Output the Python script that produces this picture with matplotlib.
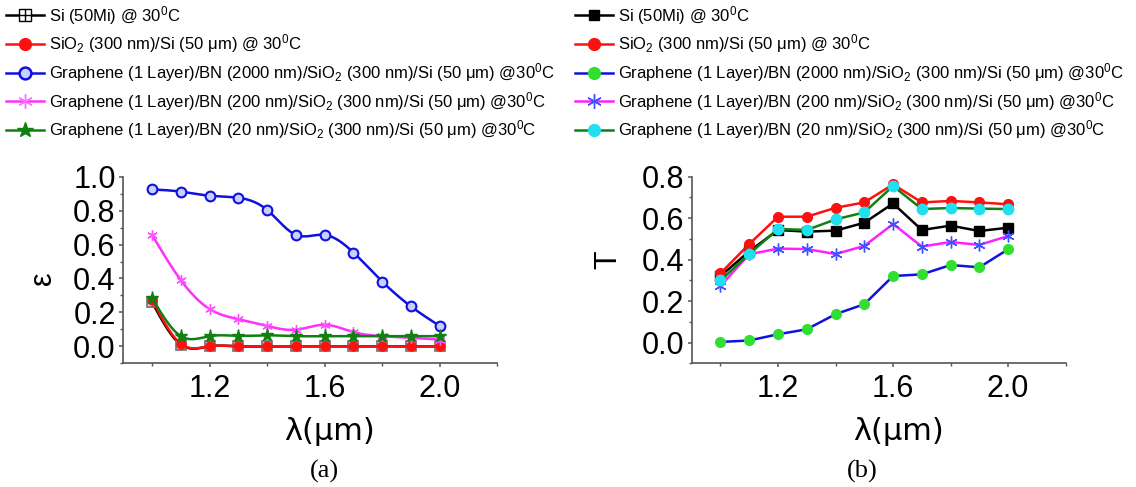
import numpy as np
import matplotlib
matplotlib.use("Agg")
import matplotlib.pyplot as plt
from matplotlib.ticker import MultipleLocator, FixedLocator, FormatStrFormatter
from matplotlib.legend_handler import HandlerTuple
from matplotlib.lines import Line2D

plt.rcParams['font.family'] = ['Liberation Sans', 'DejaVu Sans']
plt.rcParams['mathtext.fontset'] = 'custom'
plt.rcParams['mathtext.rm'] = 'Liberation Sans'
plt.rcParams['mathtext.it'] = 'Liberation Sans:italic'
plt.rcParams['mathtext.bf'] = 'Liberation Sans:bold'

# Wavelength grid (µm)
wavelength = [1.0, 1.1, 1.2, 1.3, 1.4, 1.5, 1.6, 1.7, 1.8, 1.9, 2.0]

# (a) emissivity
eps_si = [0.26, 0.01, 0.0, 0.0, 0.0, 0.0, 0.0, 0.0, 0.0, 0.0, 0.0]
eps_sio2 = [0.275, 0.015, 0.0, 0.0, 0.0, 0.0, 0.0, 0.0, 0.0, 0.0, 0.0]
eps_bn2000 = [0.925, 0.912, 0.888, 0.876, 0.804, 0.657, 0.657, 0.553, 0.382, 0.235, 0.12]
eps_bn200 = [0.657, 0.39, 0.22, 0.16, 0.12, 0.098, 0.127, 0.084, 0.06, 0.05, 0.04]
eps_bn20 = [0.285, 0.06, 0.06, 0.062, 0.065, 0.06, 0.06, 0.06, 0.06, 0.06, 0.06]

# (b) transmittance
t_si = [0.321, 0.44, 0.543, 0.535, 0.54, 0.578, 0.671, 0.543, 0.564, 0.538, 0.554]
t_sio2 = [0.334, 0.475, 0.607, 0.607, 0.65, 0.676, 0.763, 0.676, 0.683, 0.676, 0.667]
t_bn2000 = [0.003, 0.01, 0.04, 0.064, 0.137, 0.185, 0.321, 0.329, 0.374, 0.363, 0.45]
t_bn200 = [0.273, 0.426, 0.453, 0.451, 0.427, 0.466, 0.572, 0.463, 0.485, 0.471, 0.514]
t_bn20 = [0.30, 0.427, 0.548, 0.543, 0.594, 0.628, 0.755, 0.644, 0.649, 0.646, 0.644]

SUP0 = r'$^\mathregular{0}$'
SUB2 = r'$_\mathregular{2}$'
labels = [
    'Si (50Mi) @ 30' + SUP0 + 'C',
    'SiO' + SUB2 + ' (300 nm)/Si (50 \u03bcm) @ 30' + SUP0 + 'C',
    'Graphene (1 Layer)/BN (2000 nm)/SiO' + SUB2 + ' (300 nm)/Si (50 \u03bcm) @30' + SUP0 + 'C',
    'Graphene (1 Layer)/BN (200 nm)/SiO' + SUB2 + ' (300 nm)/Si (50 \u03bcm) @30' + SUP0 + 'C',
    'Graphene (1 Layer)/BN (20 nm)/SiO' + SUB2 + ' (300 nm)/Si (50 \u03bcm) @30' + SUP0 + 'C',
]


def spline_curve(x, y, n=400):
    """Natural cubic spline through the points, for a smooth connecting line."""
    x = np.asarray(x, float)
    y = np.asarray(y, float)
    m = len(x)
    h = np.diff(x)
    A = np.zeros((m, m))
    r = np.zeros(m)
    A[0, 0] = A[-1, -1] = 1.0
    for i in range(1, m - 1):
        A[i, i - 1] = h[i - 1]
        A[i, i] = 2 * (h[i - 1] + h[i])
        A[i, i + 1] = h[i]
        r[i] = 6 * ((y[i + 1] - y[i]) / h[i] - (y[i] - y[i - 1]) / h[i - 1])
    M = np.linalg.solve(A, r)
    xs = np.linspace(x[0], x[-1], n)
    idx = np.clip(np.searchsorted(x, xs) - 1, 0, m - 2)
    x0, x1 = x[idx], x[idx + 1]
    hh = x1 - x0
    a = (x1 - xs) / hh
    b = (xs - x0) / hh
    ys = (a * y[idx] + b * y[idx + 1]
          + ((a ** 3 - a) * M[idx] + (b ** 3 - b) * M[idx + 1]) * hh ** 2 / 6)
    return xs, ys


W, H = 1136, 487
fig = plt.figure(figsize=(W / 100, H / 100), dpi=100)

ax_w = 374.0 / W
ax_b = (H - 363.3) / H
ax_h = (363.3 - 176.7) / H
axA = fig.add_axes([123.3 / W, ax_b, ax_w, ax_h])
axB = fig.add_axes([691.7 / W, ax_b, ax_w, ax_h])

lw = 1.8
ms = 6.5


def smooth_series(ax, y, color, zorder, **mk):
    xs, ys = spline_curve(wavelength, y)
    ax.plot(xs, ys, color=color, lw=lw, zorder=zorder)
    ax.plot(wavelength, y, ls='none', zorder=zorder + 0.5, **mk)


# ---- (a) emissivity, spline-connected ----
smooth_series(axA, eps_si, 'black', 2, marker='s', ms=7, mfc='#d8d8d8', mec='#707070', mew=1.2)
axA.plot(wavelength, eps_si, ls='none', marker='+', ms=7, mec='#707070', mew=1.0, zorder=2.6)
smooth_series(axA, eps_sio2, '#ff1010', 3, marker='o', ms=ms, mfc='#ff1010', mec='#ff1010')
smooth_series(axA, eps_bn2000, '#1010e0', 4, marker='o', ms=ms + 0.5, mfc='#c8d0ff', mec='#1010e0', mew=1.5)
smooth_series(axA, eps_bn200, '#ff30ff', 5, marker=(6, 2, 0), ms=ms + 1, mec='#ff50ff', mew=1.0)
smooth_series(axA, eps_bn20, '#108010', 6, marker='*', ms=ms + 3, mfc='#108010', mec='#108010')

axA.set_xlim(0.9, 2.2)
axA.set_ylim(-0.1, 1.0)
axA.yaxis.set_major_locator(FixedLocator([0.0, 0.2, 0.4, 0.6, 0.8, 1.0]))
axA.set_ylabel('\u03b5', fontsize=22, rotation=90)

# ---- (b) transmittance, straight segments ----
axB.plot(wavelength, t_si, color='black', lw=lw, marker='s', ms=ms, mfc='black', mec='black', zorder=2)
axB.plot(wavelength, t_sio2, color='#ff1010', lw=lw, marker='o', ms=ms + 0.5, mfc='#ff1010', mec='#ff1010', zorder=3)
axB.plot(wavelength, t_bn2000, color='#1010e0', lw=lw, marker='o', ms=ms + 0.5, mfc='#30e030', mec='#30e030', zorder=4)
axB.plot(wavelength, t_bn200, color='#ff20ff', lw=lw, marker=(6, 2, 0), ms=ms + 2, mec='#4050ff', mew=1.0, zorder=5)
axB.plot(wavelength, t_bn20, color='#108010', lw=lw, marker='o', ms=ms + 1, mfc='#20e0f0', mec='#20e0f0', zorder=6)

axB.set_xlim(0.9, 2.2)
axB.set_ylim(-0.1, 0.8)
axB.yaxis.set_major_locator(FixedLocator([0.0, 0.2, 0.4, 0.6, 0.8]))
axB.set_ylabel('T', fontsize=22, rotation=90)

for ax in (axA, axB):
    for s in ('top', 'right'):
        ax.spines[s].set_visible(False)
    for s in ('left', 'bottom'):
        ax.spines[s].set_color('#555555')
        ax.spines[s].set_linewidth(1.2)
    ax.xaxis.set_major_locator(FixedLocator([1.2, 1.6, 2.0]))
    ax.xaxis.set_minor_locator(MultipleLocator(0.2))
    ax.yaxis.set_minor_locator(MultipleLocator(0.1))
    ax.yaxis.set_major_formatter(FormatStrFormatter('%.1f'))
    ax.xaxis.set_major_formatter(FormatStrFormatter('%.1f'))
    ax.tick_params(axis='both', which='major', direction='out', length=3, width=1.1,
                   color='#555555', labelsize=22)
    ax.tick_params(axis='both', which='minor', direction='out', length=2, width=1.0,
                   color='#555555')
    ax.tick_params(axis='y', which='major', pad=2.5)
    ax.tick_params(axis='x', which='major', pad=5)
    ax.set_xlabel('\u03bb(\u03bcm)', fontsize=22, family='DejaVu Sans')
    ax.xaxis.label.set_va('center')
    ax.yaxis.label.set_va('center')
    ax.set_facecolor('none')

axA.xaxis.set_label_coords(0.55, -0.365)
axB.xaxis.set_label_coords(0.554, -0.365)
axA.yaxis.set_label_coords(-0.215, 0.455)
axB.yaxis.set_label_coords(-0.224, 0.556)

# ---- legends ----
hA = [
    (Line2D([], [], color='black', lw=lw, marker='s', ms=8, mfc='white', mec='black', mew=1.0),
     Line2D([], [], ls='none', marker='+', ms=8, mec='black', mew=1.0)),
    Line2D([], [], color='#ff1010', lw=lw, marker='o', ms=ms + 2, mfc='#ff1010', mec='#ff1010'),
    Line2D([], [], color='#1010e0', lw=lw, marker='o', ms=ms + 2, mfc='#c8d0ff', mec='#1010e0', mew=1.8),
    Line2D([], [], color='#ff30ff', lw=lw, marker=(6, 2, 0), ms=ms + 4, mec='#ff70ff', mew=1.0),
    Line2D([], [], color='#108010', lw=lw, marker='*', ms=ms + 5, mfc='#108010', mec='#108010'),
]
hB = [
    Line2D([], [], color='black', lw=lw, marker='s', ms=ms + 1, mfc='black', mec='black'),
    Line2D([], [], color='#ff1010', lw=lw, marker='o', ms=ms + 2, mfc='#ff1010', mec='#ff1010'),
    Line2D([], [], color='#1010e0', lw=lw, marker='o', ms=ms + 2, mfc='#30e030', mec='#30e030'),
    Line2D([], [], color='#ff20ff', lw=lw, marker=(6, 2, 0), ms=ms + 4, mec='#4050ff', mew=1.0),
    Line2D([], [], color='#108010', lw=lw, marker='o', ms=ms + 2, mfc='#20e0f0', mec='#20e0f0'),
]

leg_kw = dict(loc='upper left', frameon=False, fontsize=12, handlelength=2.3,
              handletextpad=0.3, labelspacing=0.34, borderpad=0, borderaxespad=0,
              bbox_transform=fig.transFigure,
              handler_map={tuple: HandlerTuple(ndivide=1)})
fig.legend(hA, labels, bbox_to_anchor=(6 / W, 1 - 4 / H), **leg_kw)
fig.legend(hB, labels, bbox_to_anchor=(575 / W, 1 - 4 / H), **leg_kw)

fig.text(324 / W, 1 - 471 / H, '(a)', ha='center', va='center', fontsize=19,
         family='Liberation Serif')
fig.text(862 / W, 1 - 471 / H, '(b)', ha='center', va='center', fontsize=19,
         family='Liberation Serif')

fig.savefig('out.png', dpi=100)
